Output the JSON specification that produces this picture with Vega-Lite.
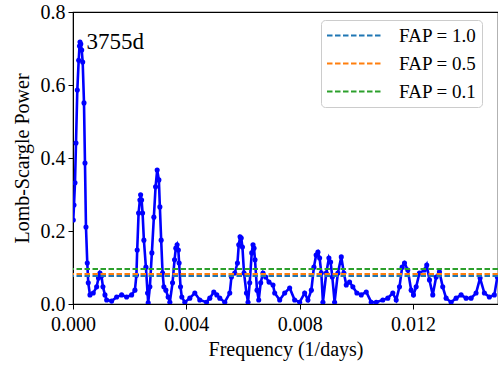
{
  "$schema": "https://vega.github.io/schema/vega-lite/v6.json",
  "width": 425,
  "height": 292,
  "autosize": {"type": "none"},
  "padding": {"left": 73, "top": 12, "right": 0, "bottom": 61},
  "background": "white",
  "config": {
    "font": "Liberation Serif, Times New Roman, serif",
    "view": {"stroke": "black", "strokeWidth": 1.2},
    "text": {"font": "Liberation Serif, Times New Roman, serif"},
    "axis": {
      "grid": false,
      "domainColor": "black",
      "tickColor": "black",
      "tickSize": 5,
      "labelColor": "black",
      "labelFontSize": 20,
      "labelFont": "Liberation Serif, Times New Roman, serif",
      "titleFont": "Liberation Serif, Times New Roman, serif",
      "titleFontSize": 20,
      "titleFontWeight": "normal",
      "titleColor": "black",
      "labelFlush": false
    }
  },
  "datasets": {
    "ps": [
      {"f": 0.00001, "p": 0.230}, {"f": 0.000035, "p": 0.271}, {"f": 0.00007, "p": 0.332}, {"f": 0.000106, "p": 0.441},
      {"f": 0.000152, "p": 0.586}, {"f": 0.000201, "p": 0.668}, {"f": 0.000229, "p": 0.707}, {"f": 0.000247, "p": 0.718},
      {"f": 0.000275, "p": 0.712}, {"f": 0.000307, "p": 0.696}, {"f": 0.000342, "p": 0.663}, {"f": 0.000388, "p": 0.551},
      {"f": 0.000423, "p": 0.386}, {"f": 0.000458, "p": 0.211}, {"f": 0.000504, "p": 0.112}, {"f": 0.000539, "p": 0.058},
      {"f": 0.000599, "p": 0.025}, {"f": 0.000715, "p": 0.030}, {"f": 0.000835, "p": 0.047}, {"f": 0.000899, "p": 0.071},
      {"f": 0.000951, "p": 0.085}, {"f": 0.001004, "p": 0.077}, {"f": 0.001057, "p": 0.047}, {"f": 0.001128, "p": 0.025},
      {"f": 0.001188, "p": 0.011}, {"f": 0.001364, "p": 0.008}, {"f": 0.00154, "p": 0.019}, {"f": 0.001716, "p": 0.025},
      {"f": 0.001892, "p": 0.019}, {"f": 0.002069, "p": 0.025}, {"f": 0.002185, "p": 0.038}, {"f": 0.002238, "p": 0.079},
      {"f": 0.002266, "p": 0.148}, {"f": 0.002315, "p": 0.249}, {"f": 0.002361, "p": 0.285}, {"f": 0.002386, "p": 0.299},
      {"f": 0.002421, "p": 0.285}, {"f": 0.002456, "p": 0.249}, {"f": 0.002502, "p": 0.175}, {"f": 0.002573, "p": 0.101},
      {"f": 0.002632, "p": 0.030}, {"f": 0.002654, "p": 0.003}, {"f": 0.002713, "p": 0.047}, {"f": 0.002784, "p": 0.140},
      {"f": 0.002854, "p": 0.238}, {"f": 0.002914, "p": 0.321}, {"f": 0.002971, "p": 0.367}, {"f": 0.003031, "p": 0.340},
      {"f": 0.003066, "p": 0.266}, {"f": 0.003112, "p": 0.175}, {"f": 0.003161, "p": 0.085}, {"f": 0.003207, "p": 0.047},
      {"f": 0.003277, "p": 0.038}, {"f": 0.003358, "p": 0.019}, {"f": 0.003418, "p": 0.005}, {"f": 0.003513, "p": 0.058},
      {"f": 0.003584, "p": 0.121}, {"f": 0.003629, "p": 0.153}, {"f": 0.003675, "p": 0.162}, {"f": 0.003718, "p": 0.148},
      {"f": 0.003746, "p": 0.112}, {"f": 0.003795, "p": 0.047}, {"f": 0.003841, "p": 0.019}, {"f": 0.003947, "p": 0.005},
      {"f": 0.004123, "p": 0.016}, {"f": 0.004299, "p": 0.030}, {"f": 0.004475, "p": 0.011}, {"f": 0.004712, "p": 0.005},
      {"f": 0.004828, "p": 0.016}, {"f": 0.004969, "p": 0.033}, {"f": 0.005075, "p": 0.025}, {"f": 0.00518, "p": 0.016},
      {"f": 0.005357, "p": 0.005}, {"f": 0.005533, "p": 0.030}, {"f": 0.005592, "p": 0.074}, {"f": 0.005709, "p": 0.085},
      {"f": 0.005804, "p": 0.112}, {"f": 0.00585, "p": 0.162}, {"f": 0.005896, "p": 0.184}, {"f": 0.005938, "p": 0.181},
      {"f": 0.00598, "p": 0.156}, {"f": 0.006036, "p": 0.085}, {"f": 0.006121, "p": 0.030}, {"f": 0.006178, "p": 0.005},
      {"f": 0.006237, "p": 0.058}, {"f": 0.006308, "p": 0.140}, {"f": 0.006354, "p": 0.162}, {"f": 0.006389, "p": 0.153},
      {"f": 0.006424, "p": 0.121}, {"f": 0.006495, "p": 0.038}, {"f": 0.006555, "p": 0.011}, {"f": 0.006625, "p": 0.058},
      {"f": 0.006706, "p": 0.085}, {"f": 0.0068, "p": 0.074}, {"f": 0.006918, "p": 0.060}, {"f": 0.007059, "p": 0.052},
      {"f": 0.007118, "p": 0.030}, {"f": 0.007295, "p": 0.011}, {"f": 0.007471, "p": 0.030}, {"f": 0.007647, "p": 0.044},
      {"f": 0.007823, "p": 0.011}, {"f": 0.008, "p": 0.005}, {"f": 0.008176, "p": 0.030}, {"f": 0.008292, "p": 0.011},
      {"f": 0.008412, "p": 0.038}, {"f": 0.008503, "p": 0.101}, {"f": 0.008581, "p": 0.134}, {"f": 0.008644, "p": 0.142},
      {"f": 0.008704, "p": 0.126}, {"f": 0.008764, "p": 0.085}, {"f": 0.008821, "p": 0.005}, {"f": 0.00894, "p": 0.085},
      {"f": 0.009032, "p": 0.126}, {"f": 0.009092, "p": 0.115}, {"f": 0.009152, "p": 0.074}, {"f": 0.009233, "p": 0.005},
      {"f": 0.009349, "p": 0.085}, {"f": 0.009469, "p": 0.129}, {"f": 0.00956, "p": 0.085}, {"f": 0.009645, "p": 0.052},
      {"f": 0.009761, "p": 0.060}, {"f": 0.009877, "p": 0.047}, {"f": 0.010019, "p": 0.030}, {"f": 0.010174, "p": 0.025},
      {"f": 0.01035, "p": 0.033}, {"f": 0.010526, "p": 0.005}, {"f": 0.010702, "p": 0.005}, {"f": 0.010935, "p": 0.011},
      {"f": 0.011111, "p": 0.016}, {"f": 0.011287, "p": 0.030}, {"f": 0.011407, "p": 0.011}, {"f": 0.011523, "p": 0.047},
      {"f": 0.011618, "p": 0.101}, {"f": 0.0117, "p": 0.112}, {"f": 0.011816, "p": 0.093}, {"f": 0.011936, "p": 0.038},
      {"f": 0.012017, "p": 0.025}, {"f": 0.012112, "p": 0.047}, {"f": 0.012228, "p": 0.085}, {"f": 0.012404, "p": 0.093},
      {"f": 0.012485, "p": 0.107}, {"f": 0.012581, "p": 0.066}, {"f": 0.012697, "p": 0.025}, {"f": 0.012817, "p": 0.074},
      {"f": 0.012933, "p": 0.088}, {"f": 0.013049, "p": 0.047}, {"f": 0.013169, "p": 0.016}, {"f": 0.013345, "p": 0.005},
      {"f": 0.013522, "p": 0.016}, {"f": 0.013698, "p": 0.025}, {"f": 0.013874, "p": 0.016}, {"f": 0.01405, "p": 0.016},
      {"f": 0.014226, "p": 0.030}, {"f": 0.014367, "p": 0.071}, {"f": 0.014519, "p": 0.030}, {"f": 0.014695, "p": 0.019},
      {"f": 0.014871, "p": 0.025}, {"f": 0.014977, "p": 0.074}
    ],
    "fap": [
      {"label": "FAP = 1.0", "level": 0.077},
      {"label": "FAP = 0.5", "level": 0.082},
      {"label": "FAP = 0.1", "level": 0.096}
    ],
    "ann": [
      {"f": 0.00048, "p": 0.70, "text": "3755d"}
    ]
  },
  "layer": [
    {
      "data": {"name": "ps"},
      "mark": {"type": "line", "color": "#0000ff", "strokeWidth": 2.6, "clip": true, "point": {"filled": true, "color": "#0000ff", "size": 26}},
      "encoding": {
        "x": {
          "field": "f", "type": "quantitative",
          "scale": {"domain": [0, 0.015], "nice": false, "zero": false},
          "axis": {"values": [0, 0.004, 0.008, 0.012], "format": ".3f", "title": "Frequency (1/days)", "titlePadding": 5, "labelPadding": 5}
        },
        "y": {
          "field": "p", "type": "quantitative",
          "scale": {"domain": [0, 0.8], "nice": false},
          "axis": {"values": [0, 0.2, 0.4, 0.6, 0.8], "format": ".1f", "title": "Lomb-Scargle Power", "titlePadding": 8, "labelPadding": 3}
        }
      }
    },
    {
      "data": {"name": "fap"},
      "mark": {"type": "rule", "strokeWidth": 2, "strokeDash": [5.5, 2.5]},
      "encoding": {
        "y": {"field": "level", "type": "quantitative"},
        "color": {
          "field": "label", "type": "nominal",
          "scale": {"domain": ["FAP = 1.0", "FAP = 0.5", "FAP = 0.1"], "range": ["#1f77b4", "#ff7f0e", "#2ca02c"]},
          "legend": {
            "title": null,
            "orient": "none",
            "legendX": 248,
            "legendY": 8,
            "symbolType": "M-3,0H3",
            "symbolSize": 336,
            "symbolStrokeWidth": 2,
            "symbolDash": [5.5, 2.5],
            "symbolOffset": 18,
            "labelFontSize": 19,
            "labelFont": "Liberation Serif, Times New Roman, serif",
            "labelColor": "black",
            "labelOffset": 34,
            "rowPadding": 7,
            "padding": 5,
            "fillColor": "white",
            "strokeColor": "#cccccc",
            "cornerRadius": 4
          }
        }
      }
    },
    {
      "data": {"name": "ann"},
      "mark": {"type": "text", "align": "left", "baseline": "alphabetic", "fontSize": 23, "font": "Liberation Serif, Times New Roman, serif", "color": "black"},
      "encoding": {
        "x": {"field": "f", "type": "quantitative"},
        "y": {"field": "p", "type": "quantitative"},
        "text": {"field": "text"}
      }
    }
  ]
}
